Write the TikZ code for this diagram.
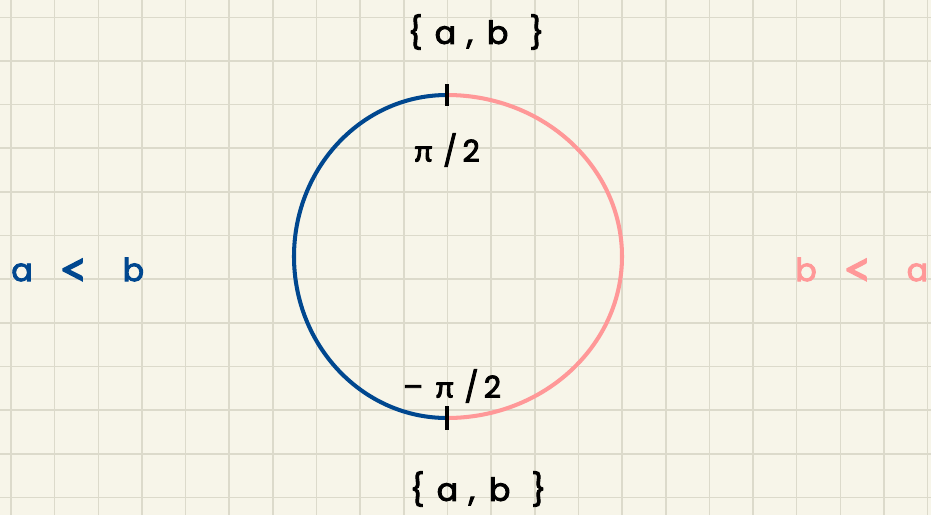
\documentclass[tikz,border=0pt]{standalone}
\usepackage{fontspec}
\setmainfont{Poppins}[FakeBold=3]
\newfontfamily\greekfont{Lato}[FakeBold=3]
\usepackage{tikz}
\definecolor{my_paper}{HTML}{F7F5E9}
\definecolor{my_grid}{HTML}{DCDACB}
\definecolor{my_blue}{HTML}{00478F}
\definecolor{my_pink}{HTML}{FF9898}
\newcommand{\pipart}{{\greekfont π}}
\newcommand{\bigless}{\raisebox{-3pt}{\greekfont\fontsize{28}{28}\selectfont <}}

\begin{document}
\begin{tikzpicture}[
    x=0.02cm, y=-0.02cm,
    arcline/.style={line width=2.3pt},
    tick/.style={line width=2.4pt, black},
    lbl/.style={font=\fontsize{18}{20}\selectfont, inner sep=0pt},
    anglbl/.style={font=\fontsize{17}{20}\selectfont, inner sep=0pt}
]

% ---- Papier mit Raster ----
\fill[my_paper] (0, 0) rectangle (931, 515);
\useasboundingbox (0, 0) rectangle (931, 515);
\foreach \i in {0,...,21}
    \draw[my_grid, line width=0.9pt] (11 + 43.65*\i, 0) -- (11 + 43.65*\i, 515);
\foreach \j in {0,...,11}
    \draw[my_grid, line width=0.9pt] (0, 17.3 + 43.65*\j) -- (931, 17.3 + 43.65*\j);

% ---- Kreis: linke Haelfte blau, rechte Haelfte rosa ----
\coordinate (top) at (447, 95);
\coordinate (bot) at (447, 418);
\draw[arcline, my_blue] (top) arc[start angle=270, end angle=90, x radius=153, y radius=161.5];
\draw[arcline, my_pink] (top) arc[start angle=270, end angle=450, x radius=175, y radius=161.5];
\draw[tick] (top) ++(0, -11) -- ++(0, 22);
\draw[tick] (bot) ++(0, -12) -- ++(0, 24);

% ---- Beschriftungen ----
\node[lbl] (setTop) at (476, 32) {\{\hspace{7pt}a\hspace{6pt},\hspace{8pt}b\hspace{12pt}\}};
\node[lbl] (setBot) at (478, 489) {\{\hspace{7pt}a\hspace{6pt},\hspace{8pt}b\hspace{12pt}\}};
\node[anglbl] (piTop) at (447, 150) {\pipart\hspace{6pt}/\hspace{3pt}2};
\node[anglbl] (piBot) at (452, 386) {–\hspace{7pt}\pipart\hspace{6pt}/\hspace{3pt}2};
\node[lbl, my_blue, anchor=west] (less) at (11, 272) {a\hspace{15pt}\bigless\hspace{20pt}b};
\node[lbl, my_pink, anchor=west] (more) at (795, 272) {b\hspace{15pt}\bigless\hspace{20pt}a};

\end{tikzpicture}
\end{document}
